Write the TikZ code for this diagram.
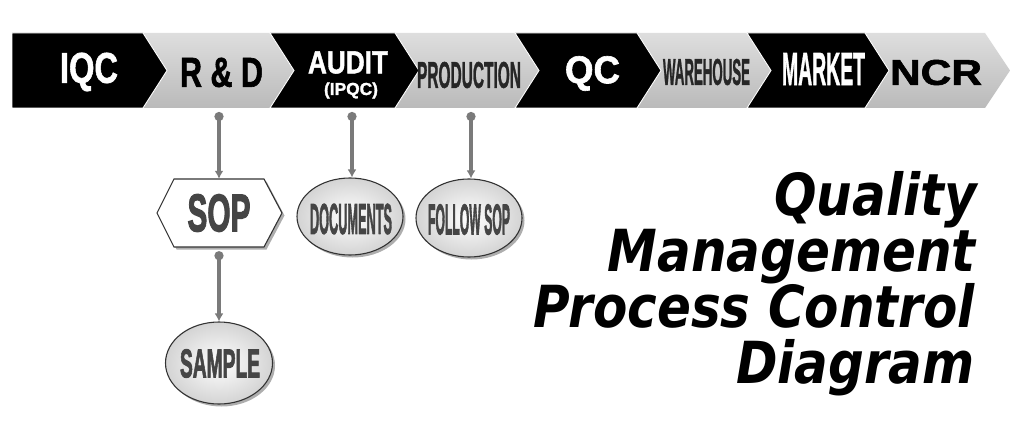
\documentclass[tikz,border=0pt]{standalone}
\usepackage{fontspec}
\setmainfont{Liberation Sans}
\newfontfamily\titlefont{DejaVu Sans}
\newfontfamily\heavy[BoldFeatures={FakeBold=1.6}]{Liberation Sans}
\newfontfamily\heavier[BoldFeatures={FakeBold=2.6}]{Liberation Sans}
\usetikzlibrary{arrows.meta,shapes.geometric,shadows,calc}
\definecolor{lblgray}{HTML}{454545}
\definecolor{conngray}{HTML}{7A7A7A}
\newcommand\ttl[1]{\scalebox{1}[1.16]{#1}}
\begin{document}
\begin{tikzpicture}[x=1pt,y=-1pt,
  blackchev/.style={fill=black, draw=white, line width=0.9pt, line join=miter},
  graychev/.style={top color=black!13, bottom color=black!27, draw=none},
  barlbl/.style={inner sep=0pt, font=\heavy\bfseries},
  shapelbl/.style={inner sep=0pt, font=\heavier\bfseries, text=lblgray},
  oval/.style={ellipse, draw=black!80, line width=1.1pt, inner color=white, outer color=black!17,
    drop shadow={shadow xshift=2.5pt, shadow yshift=-2.5pt, fill=black!45, opacity=0.7}},
  hexbox/.style={draw=black!80, line width=1.1pt, fill=white,
    drop shadow={shadow xshift=2.5pt, shadow yshift=-2.5pt, fill=black!45, opacity=0.7}},
  conn/.style={draw=conngray, line width=3.4pt, {Circle[length=9pt]}-{Latex[length=8pt,width=9pt]}},
  titletxt/.style={inner sep=0pt, anchor=base east, font=\titlefont\bfseries\itshape\fontsize{50}{55}\selectfont},
]
\useasboundingbox (0,0) rectangle (1024,433);
% ---- chevron bar ----
\path[graychev] (143,33) -- (270,33) -- (294,70.5) -- (270,108) -- (143,108) -- (167,70.5) -- cycle;
\path[graychev] (395,33) -- (515,33) -- (539,70.5) -- (515,108) -- (395,108) -- (419,70.5) -- cycle;
\path[graychev] (637,33) -- (747,33) -- (771,70.5) -- (747,108) -- (637,108) -- (661,70.5) -- cycle;
\path[graychev] (865,33) -- (985,33) -- (1010,70.5) -- (985,108) -- (865,108) -- (889,70.5) -- cycle;
\path[blackchev] (12,33) -- (143,33) -- (167,70.5) -- (143,108) -- (12,108) -- cycle;
\path[blackchev] (270,33) -- (395,33) -- (419,70.5) -- (395,108) -- (270,108) -- (294,70.5) -- cycle;
\path[blackchev] (515,33) -- (637,33) -- (661,70.5) -- (637,108) -- (515,108) -- (539,70.5) -- cycle;
\path[blackchev] (747,33) -- (865,33) -- (889,70.5) -- (865,108) -- (747,108) -- (771,70.5) -- cycle;
% ---- bar labels ----
\node[barlbl, text=white] (iqc) at (89,72) {\resizebox{58pt}{30pt}{IQC}};
\node[barlbl, text=black] (rd) at (221.5,72.5) {\resizebox{83pt}{29pt}{R \& D}};
\node[barlbl, text=white] (audit) at (348,62.5) {\resizebox{80pt}{22pt}{AUDIT}};
\node[barlbl, text=white] (ipqc) at (351,90.5) {\resizebox{54pt}{!}{(IPQC)}};
\node[barlbl, text=black!85] (prod) at (469,75) {\resizebox{104pt}{26pt}{PRODUCTION}};
\node[barlbl, text=white] (qc) at (592.5,73.5) {\resizebox{55pt}{27pt}{QC}};
\node[barlbl, text=black!85] (wh) at (706.5,72) {\resizebox{87pt}{26pt}{WAREHOUSE}};
\node[barlbl, text=white] (market) at (823.5,69) {\resizebox{83pt}{32pt}{MARKET}};
\node[barlbl, text=black] (ncr) at (936,72.5) {\resizebox{92pt}{25pt}{NCR}};
% ---- connector start points ----
\coordinate (rdb) at (219,112);
\coordinate (auditb) at (352,112);
\coordinate (prodb) at (471,112);
% ---- shapes ----
\draw[hexbox] (157,213) -- (174,179) -- (264,179) -- (282,213) -- (264,247) -- (174,247) -- cycle;
\node[shapelbl, minimum width=125pt, minimum height=68pt] (sop) at (219,213) {\resizebox{63pt}{37pt}{SOP}};
\node[oval, minimum width=106pt, minimum height=77pt] (docs) at (350,216.5) {};
\node[shapelbl] (docst) at (351,219) {\resizebox{82pt}{30pt}{DOCUMENTS}};
\node[oval, minimum width=106pt, minimum height=78pt] (follow) at (469,218) {};
\node[shapelbl] (followt) at (469,219.5) {\resizebox{82pt}{30pt}{FOLLOW SOP}};
\node[oval, minimum width=107pt, minimum height=82pt] (sample) at (219,363) {};
\node[shapelbl] (samplet) at (220,363.5) {\resizebox{80pt}{28pt}{SAMPLE}};
% ---- connectors ----
\draw[conn] (rdb) -- (sop.north);
\draw[conn] (auditb) -- (auditb |- docs.north);
\draw[conn] (prodb) -- (prodb |- follow.north);
\draw[conn] ([yshift=-4pt]sop.south) -- (sample.north);
% ---- title ----
\node[titletxt] (t1) at (977,215) {\ttl{Quality}};
\node[titletxt] (t2) at (976,271) {\ttl{Management}};
\node[titletxt] (t3) at (975,327) {\ttl{Process Control}};
\node[titletxt] (t4) at (975,383) {\ttl{Diagram}};
\end{tikzpicture}
\end{document}
